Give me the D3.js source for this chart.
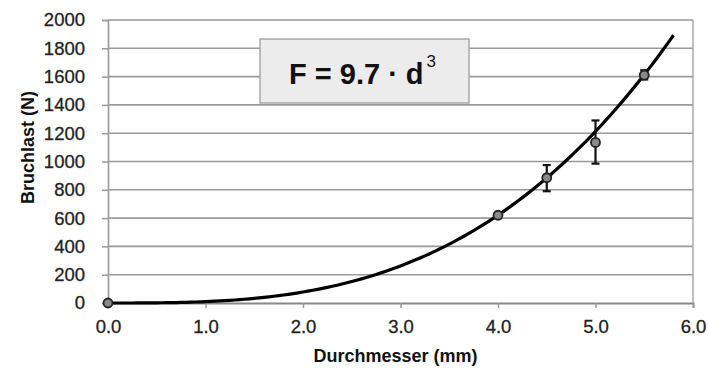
<!DOCTYPE html>
<html>
<head>
<meta charset="utf-8">
<script src="https://cdn.jsdelivr.net/npm/d3@7"></script>
<style>
  body { margin: 0; background: #fff; }
  text { font-family: Arial, "Liberation Sans", sans-serif; }
</style>
</head>
<body>
<svg id="chart" width="708" height="372"></svg>
<script>
// measured points (diameter mm, load N, error low, error high)
const diameters = [0, 4.0, 4.5, 5.0, 5.5];
const loads = [0, 620, 885, 1135, 1610];
const errLow = [0, 600, 790, 985, 1580];
const errHigh = [0, 640, 975, 1290, 1645];
const xTicks = [0, 1, 2, 3, 4, 5, 6];
const yTicks = [0, 200, 400, 600, 800, 1000, 1200, 1400, 1600, 1800, 2000];
const coeff = 9.7;
const fitEnd = 5.8;

const svg = d3.select('#chart');
const margin = { top: 20, right: 15, bottom: 69, left: 108 };
const width = +svg.attr('width');
const height = +svg.attr('height');
const innerWidth = width - margin.left - margin.right;
const innerHeight = height - margin.top - margin.bottom;

const x = d3.scaleLinear().domain([0, 6]).range([0, innerWidth]);
const y = d3.scaleLinear().domain([0, 2000]).range([innerHeight, 0]);

const g = svg.append('g')
    .attr('transform', 'translate(' + margin.left + ',' + margin.top + ')');

// horizontal grid
g.selectAll('.grid')
  .data(yTicks.slice(1))
  .enter().append('line')
    .attr('x1', 0).attr('x2', innerWidth)
    .attr('y1', d => y(d)).attr('y2', d => y(d))
    .attr('stroke', '#9a9a9a').attr('stroke-width', 1.6);

// right border
g.append('line')
    .attr('x1', innerWidth).attr('x2', innerWidth)
    .attr('y1', 0).attr('y2', innerHeight)
    .attr('stroke', '#aaa').attr('stroke-width', 1.5);

// y axis
const yAxis = g.append('g')
    .call(d3.axisLeft(y).tickValues(yTicks).tickFormat(d3.format('d')).tickSize(6).tickPadding(17));
yAxis.select('.domain').attr('stroke', '#999').attr('stroke-width', 1.6);
yAxis.selectAll('.tick line').attr('stroke', '#999').attr('stroke-width', 1.5);
yAxis.selectAll('text').attr('font-size', 18.5).attr('fill', '#222').attr('stroke', '#222').attr('stroke-width', 0.3);

// x axis
const xAxis = g.append('g')
    .attr('transform', 'translate(0,' + innerHeight + ')')
    .call(d3.axisBottom(x).tickValues(xTicks).tickFormat(d3.format('.1f')).tickSize(5).tickPadding(12));
xAxis.select('.domain').attr('stroke', '#888').attr('stroke-width', 1.8);
xAxis.selectAll('.tick line').attr('stroke', '#999').attr('stroke-width', 1.5);
xAxis.selectAll('text').attr('font-size', 18.5).attr('fill', '#222').attr('stroke', '#222').attr('stroke-width', 0.3);

// axis titles
svg.append('text')
    .attr('x', margin.left + innerWidth / 2 - 5)
    .attr('y', 362)
    .attr('text-anchor', 'middle')
    .attr('font-size', 18).attr('font-weight', 'bold').attr('fill', '#111')
    .text('Durchmesser (mm)');

svg.append('text')
    .attr('transform', 'translate(34,' + (margin.top + innerHeight / 2 - 14) + ') rotate(-90)')
    .attr('text-anchor', 'middle')
    .attr('font-size', 18).attr('font-weight', 'bold').attr('fill', '#111')
    .text('Bruchlast (N)');

// fitted curve F = 9.7 d^3
const curveX = d3.range(0, fitEnd + 0.001, 0.05);
const line = d3.line()
    .x(d => x(d))
    .y(d => y(coeff * d * d * d));
g.append('path')
    .datum(curveX)
    .attr('d', line)
    .attr('fill', 'none')
    .attr('stroke', '#000')
    .attr('stroke-width', 3.2);

// error bars
const pts = diameters.map((d, i) => ({ d: d, f: loads[i], lo: errLow[i], hi: errHigh[i] }));
const eb = g.selectAll('.err').data(pts.filter(p => p.hi > p.lo)).enter().append('g');
eb.append('line')
    .attr('x1', p => x(p.d)).attr('x2', p => x(p.d))
    .attr('y1', p => y(p.lo)).attr('y2', p => y(p.hi))
    .attr('stroke', '#111').attr('stroke-width', 2.2);
eb.selectAll('.cap').data(p => [[p.d, p.lo], [p.d, p.hi]]).enter().append('line')
    .attr('x1', c => x(c[0]) - 4).attr('x2', c => x(c[0]) + 4)
    .attr('y1', c => y(c[1])).attr('y2', c => y(c[1]))
    .attr('stroke', '#111').attr('stroke-width', 2.2);

// markers
g.selectAll('.pt').data(pts).enter().append('circle')
    .attr('cx', p => x(p.d)).attr('cy', p => y(p.f))
    .attr('r', 4.5)
    .attr('fill', '#8a8a8a')
    .attr('stroke', '#222').attr('stroke-width', 1.8);

// equation box
const box = svg.append('g');
box.append('rect')
    .attr('x', 260).attr('y', 39).attr('width', 209).attr('height', 64)
    .attr('fill', '#ececec').attr('stroke', '#a8a8a8').attr('stroke-width', 1.5);
const eq = box.append('text')
    .attr('x', 289).attr('y', 84)
    .attr('font-size', 29).attr('font-weight', 'bold').attr('fill', '#111');
eq.append('tspan').text('F = 9.7 · d');
eq.append('tspan').attr('dx', 3).attr('dy', -17).attr('font-size', 17).attr('font-weight', 'normal').text('3');
</script>
</body>
</html>
